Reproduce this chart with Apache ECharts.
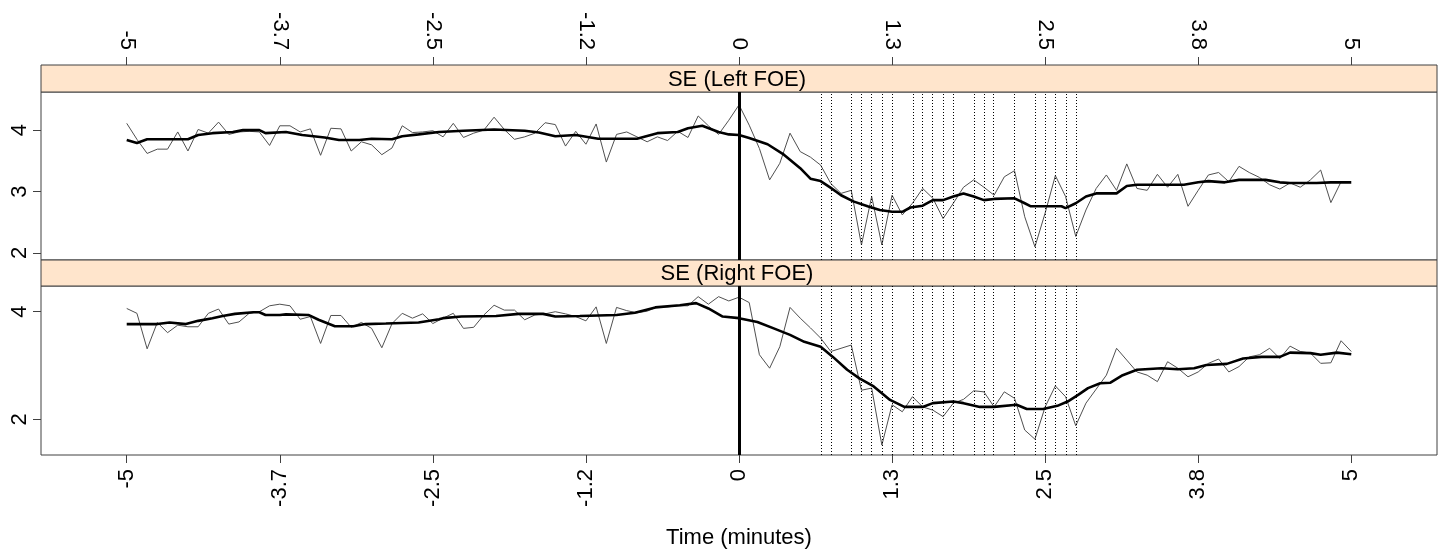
<!DOCTYPE html>
<html>
<head>
<meta charset="utf-8">
<script src="https://cdn.jsdelivr.net/npm/echarts@6/dist/echarts.min.js"></script>
<style>
  html, body { margin: 0; padding: 0; background: #fff; }
  #chart { width: 1443px; height: 550px; }
</style>
</head>
<body>
<div id="chart"></div>
<script>
// ---------------- data ----------------
const panelNames = ['SE (Left FOE)', 'SE (Right FOE)'];
const xAxisTitle = 'Time (minutes)';
const xTickValues = [-5, -3.75, -2.5, -1.25, 0, 1.25, 2.5, 3.75, 5];
const xTickLabels = ['-5', '-3.7', '-2.5', '-1.2', '0', '1.3', '2.5', '3.8', '5'];
const yTicksTop = [2, 3, 4];
const yTicksBottom = [2, 4];
const sampleStartSec = -300;   // raw series: one sample every 5 s
const sampleStepSec = 5;

// raw SE, left FOE (thin line)
const rawLeft = [
  4.11, 3.85, 3.62, 3.69, 3.69, 3.97, 3.66, 4.01, 3.95, 4.13,
  3.93, 3.97, 3.98, 3.97, 3.75, 4.07, 4.07, 3.97, 4.02, 3.59,
  4.03, 4.02, 3.66, 3.81, 3.76, 3.60, 3.71, 4.07, 3.96, 3.97,
  3.99, 3.89, 4.11, 3.88, 3.95, 4.00, 4.21, 4.01, 3.85, 3.89,
  3.95, 4.12, 4.09, 3.74, 3.98, 3.77, 4.10, 3.48, 3.93, 3.97,
  3.89, 3.81, 3.89, 3.83, 3.98, 3.88, 4.23, 4.07, 3.93, 4.16,
  4.41, 4.08, 3.70, 3.19, 3.46, 3.95, 3.65, 3.56, 3.43, 3.13,
  2.97, 3.02, 2.13, 2.92, 2.13, 2.94, 2.62, 2.81, 3.05, 2.89,
  2.56, 2.81, 3.07, 3.19, 3.07, 2.94, 3.24, 3.34, 2.59, 2.10,
  2.65, 3.26, 2.92, 2.27, 2.70, 3.05, 3.27, 3.02, 3.45, 3.05,
  3.02, 3.28, 3.07, 3.28, 2.76, 3.02, 3.27, 3.31, 3.16, 3.41,
  3.31, 3.23, 3.11, 3.04, 3.14, 3.07, 3.19, 3.35, 2.82, 3.16
];
// raw SE, right FOE (thin line)
const rawRight = [
  4.06, 3.97, 3.31, 3.80, 3.61, 3.75, 3.72, 3.72, 3.97, 4.05,
  3.77, 3.81, 3.97, 4.00, 4.11, 4.14, 4.11, 3.86, 3.91, 3.41,
  3.93, 3.93, 3.71, 3.80, 3.69, 3.33, 3.78, 3.97, 3.88, 3.96,
  3.78, 3.88, 3.97, 3.69, 3.71, 3.94, 4.12, 4.03, 4.03, 3.85,
  3.94, 3.96, 4.00, 3.96, 3.91, 3.83, 4.09, 3.41, 4.08, 4.02,
  3.98, 4.01, 4.09, 4.09, 4.11, 4.11, 4.28, 4.14, 4.28, 4.20,
  4.27, 4.17, 3.20, 2.95, 3.35, 4.08, 3.88, 3.70, 3.51, 3.26,
  3.32, 3.38, 2.54, 2.58, 1.52, 2.27, 2.14, 2.42, 2.23, 2.17,
  2.05, 2.30, 2.37, 2.53, 2.51, 2.23, 2.51, 2.39, 1.80, 1.63,
  2.23, 2.62, 2.42, 1.88, 2.30, 2.56, 2.82, 3.32, 3.10, 2.88,
  2.82, 2.70, 3.07, 2.95, 2.79, 2.88, 3.04, 3.12, 2.88, 2.98,
  3.16, 3.20, 3.32, 3.13, 3.36, 3.26, 3.23, 3.04, 3.05, 3.46,
  3.26
];

// smoothed curve, left FOE (thick line): time in seconds, value
const smoothLeftSec = [
  -300, -295, -290, -270, -265, -258, -248, -243, -235, -232, -222, -214, -203, -196,
  -186, -180, -170, -165, -157, -147, -135, -120, -105, -98, -90, -80, -69, -50,
  -40, -30, -25, -18, -10, -5, 0, 5, 14, 22, 30, 35, 40, 45, 50, 56, 63, 69, 75,
  80, 84, 90, 95, 100, 105, 110, 115, 120, 125, 135, 140, 143, 158, 160, 165, 170,
  175, 185, 190, 195, 218, 225, 230, 238, 245, 258, 265, 270, 283, 290, 300
];
const smoothLeft = [
  3.84, 3.79, 3.85, 3.85, 3.92, 3.95, 3.97, 4.00, 4.00, 3.95, 3.97, 3.92, 3.88, 3.84,
  3.84, 3.86, 3.85, 3.90, 3.93, 3.97, 3.99, 4.01, 3.99, 3.96, 3.90, 3.92, 3.86, 3.86,
  3.95, 3.97, 4.03, 4.07, 3.97, 3.93, 3.92, 3.87, 3.77, 3.60, 3.38, 3.21, 3.17, 3.06, 2.94, 2.84, 2.76, 2.70, 2.67,
  2.67, 2.74, 2.77, 2.86, 2.86, 2.92, 2.97, 2.92, 2.86, 2.88, 2.89, 2.81, 2.76, 2.76, 2.73, 2.81, 2.92,
  2.97, 2.97, 3.09, 3.11, 3.11, 3.15, 3.17, 3.15, 3.19, 3.19, 3.15, 3.14, 3.14, 3.15, 3.15
];
// smoothed curve, right FOE (thick line)
const smoothRightSec = [
  -300, -285, -279, -271, -265, -258, -253, -247, -238, -235, -232, -225, -222, -211,
  -206, -198, -189, -183, -173, -157, -147, -145, -136, -119, -108, -96, -90, -78,
  -60, -51, -41, -29, -21, -15, -8, 0, 9, 17, 25, 32, 40, 46, 53, 59, 66, 74, 81,
  90, 95, 105, 110, 118, 125, 136, 141, 149, 156, 161, 166, 171, 177, 182, 188, 195,
  207, 215, 223, 229, 239, 247, 256, 265, 270, 280, 285, 293, 300
];
const smoothRight = [
  3.77, 3.77, 3.80, 3.77, 3.83, 3.88, 3.92, 3.96, 3.99, 3.99, 3.94, 3.94, 3.95, 3.94,
  3.85, 3.73, 3.73, 3.77, 3.78, 3.80, 3.86, 3.88, 3.91, 3.92, 3.96, 3.96, 3.91, 3.92,
  3.94, 3.98, 4.08, 4.12, 4.16, 4.06, 3.91, 3.88, 3.81, 3.69, 3.57, 3.44, 3.35, 3.16, 2.92, 2.76, 2.61, 2.36, 2.23,
  2.23, 2.30, 2.33, 2.30, 2.23, 2.23, 2.27, 2.19, 2.19, 2.25, 2.33, 2.45, 2.58, 2.67, 2.68, 2.82, 2.92,
  2.95, 2.93, 2.95, 3.01, 3.03, 3.13, 3.16, 3.16, 3.24, 3.23, 3.20, 3.24, 3.21
];

// dotted reference lines (seconds after onset) and the onset line
const markSec = [40, 45, 55, 60, 65, 70, 75, 85, 90, 95, 100, 105, 115, 120, 125, 135, 145, 150, 155, 160, 165];
const onsetMin = 0;

// ---------------- build ----------------
const FONT = "'Liberation Sans', Arial, Helvetica, sans-serif";
const BOX = '#404040';
const rawPairs = arr => arr.map((v, i) => [(sampleStartSec + i * sampleStepSec) / 60, v]);
const smoothPairs = (secs, vals) => secs.map((s, i) => [s / 60, vals[i]]);
const labelFor = v => {
  const i = xTickValues.findIndex(t => Math.abs(t - v) < 1e-6);
  return i >= 0 ? xTickLabels[i] : '';
};

const L = 41, W = 1396;
const strip1 = { y: 65, h: 27 }, grid1 = { top: 92, h: 168 };
const strip2 = { y: 260, h: 26 }, grid2 = { top: 286, h: 169 };

function markLineFor() {
  const data = markSec.map(s => ({
    xAxis: s / 60,
    lineStyle: { color: '#000', width: 1, type: [1, 2] }
  }));
  data.push({ xAxis: onsetMin, lineStyle: { color: '#000', width: 3, type: 'solid' } });
  return { silent: true, symbol: ['none', 'none'], label: { show: false }, animation: false, data };
}

function xAxisCfg(gridIndex, top) {
  const cfg = {
    gridIndex, type: 'value', min: -5.7, max: 5.7,
    position: top ? 'top' : 'bottom',
    axisLine: { show: false, onZero: false },
    splitLine: { show: false },
    axisTick: { show: true, length: 8, inside: false, customValues: xTickValues, lineStyle: { color: BOX, width: 1 } },
    axisLabel: { show: true, rotate: 90, margin: top ? 15 : 14, fontSize: 22, fontFamily: FONT, color: '#000',
                 customValues: xTickValues, formatter: labelFor }
  };
  if (top) cfg.offset = grid1.top - strip1.y;
  else {
    cfg.name = xAxisTitle; cfg.nameLocation = 'middle'; cfg.nameGap = 72;
    cfg.nameTextStyle = { fontSize: 22, fontFamily: FONT, color: '#000' };
  }
  return cfg;
}
function yAxisCfg(gridIndex, min, max, ticks) {
  return {
    gridIndex, type: 'value', min, max, position: 'left',
    axisLine: { show: false, onZero: false }, splitLine: { show: false },
    axisTick: { show: true, inside: false, length: 8, customValues: ticks, lineStyle: { color: BOX, width: 1 } },
    axisLabel: { show: true, rotate: 90, margin: 10, fontSize: 22, fontFamily: FONT, color: '#000', customValues: ticks }
  };
}

const chart = echarts.init(document.getElementById('chart'), null, { renderer: 'canvas' });
chart.setOption({
  animation: false,
  backgroundColor: '#fff',
  grid: [
    { left: L, top: grid1.top, width: W, height: grid1.h, show: true, borderColor: BOX, borderWidth: 1, containLabel: false },
    { left: L, top: grid2.top, width: W, height: grid2.h, show: true, borderColor: BOX, borderWidth: 1, containLabel: false }
  ],
  xAxis: [xAxisCfg(0, true), xAxisCfg(1, false)],
  yAxis: [yAxisCfg(0, 1.886, 4.62, yTicksTop), yAxisCfg(1, 1.336, 4.478, yTicksBottom)],
  graphic: [
    { type: 'rect', shape: { x: L, y: strip1.y, width: W, height: strip1.h }, style: { fill: '#FFE5CC', stroke: BOX, lineWidth: 1 } },
    { type: 'text', x: L + W / 2 - 2, y: strip1.y + strip1.h / 2 + 1, style: { text: panelNames[0], font: '22px ' + FONT, fill: '#000', textAlign: 'center', textVerticalAlign: 'middle' } },
    { type: 'rect', shape: { x: L, y: strip2.y, width: W, height: strip2.h }, style: { fill: '#FFE5CC', stroke: BOX, lineWidth: 1 } },
    { type: 'text', x: L + W / 2 - 2, y: strip2.y + strip2.h / 2 + 1, style: { text: panelNames[1], font: '22px ' + FONT, fill: '#000', textAlign: 'center', textVerticalAlign: 'middle' } }
  ],
  series: [
    { type: 'line', xAxisIndex: 0, yAxisIndex: 0, data: rawPairs(rawLeft), symbol: 'none',
      lineStyle: { color: '#505050', width: 1 }, markLine: markLineFor(), z: 2 },
    { type: 'line', xAxisIndex: 0, yAxisIndex: 0, data: smoothPairs(smoothLeftSec, smoothLeft), symbol: 'none',
      lineStyle: { color: '#000', width: 2.6 }, z: 3 },
    { type: 'line', xAxisIndex: 1, yAxisIndex: 1, data: rawPairs(rawRight), symbol: 'none',
      lineStyle: { color: '#505050', width: 1 }, markLine: markLineFor(), z: 2 },
    { type: 'line', xAxisIndex: 1, yAxisIndex: 1, data: smoothPairs(smoothRightSec, smoothRight), symbol: 'none',
      lineStyle: { color: '#000', width: 2.6 }, z: 3 }
  ]
});
</script>
</body>
</html>
